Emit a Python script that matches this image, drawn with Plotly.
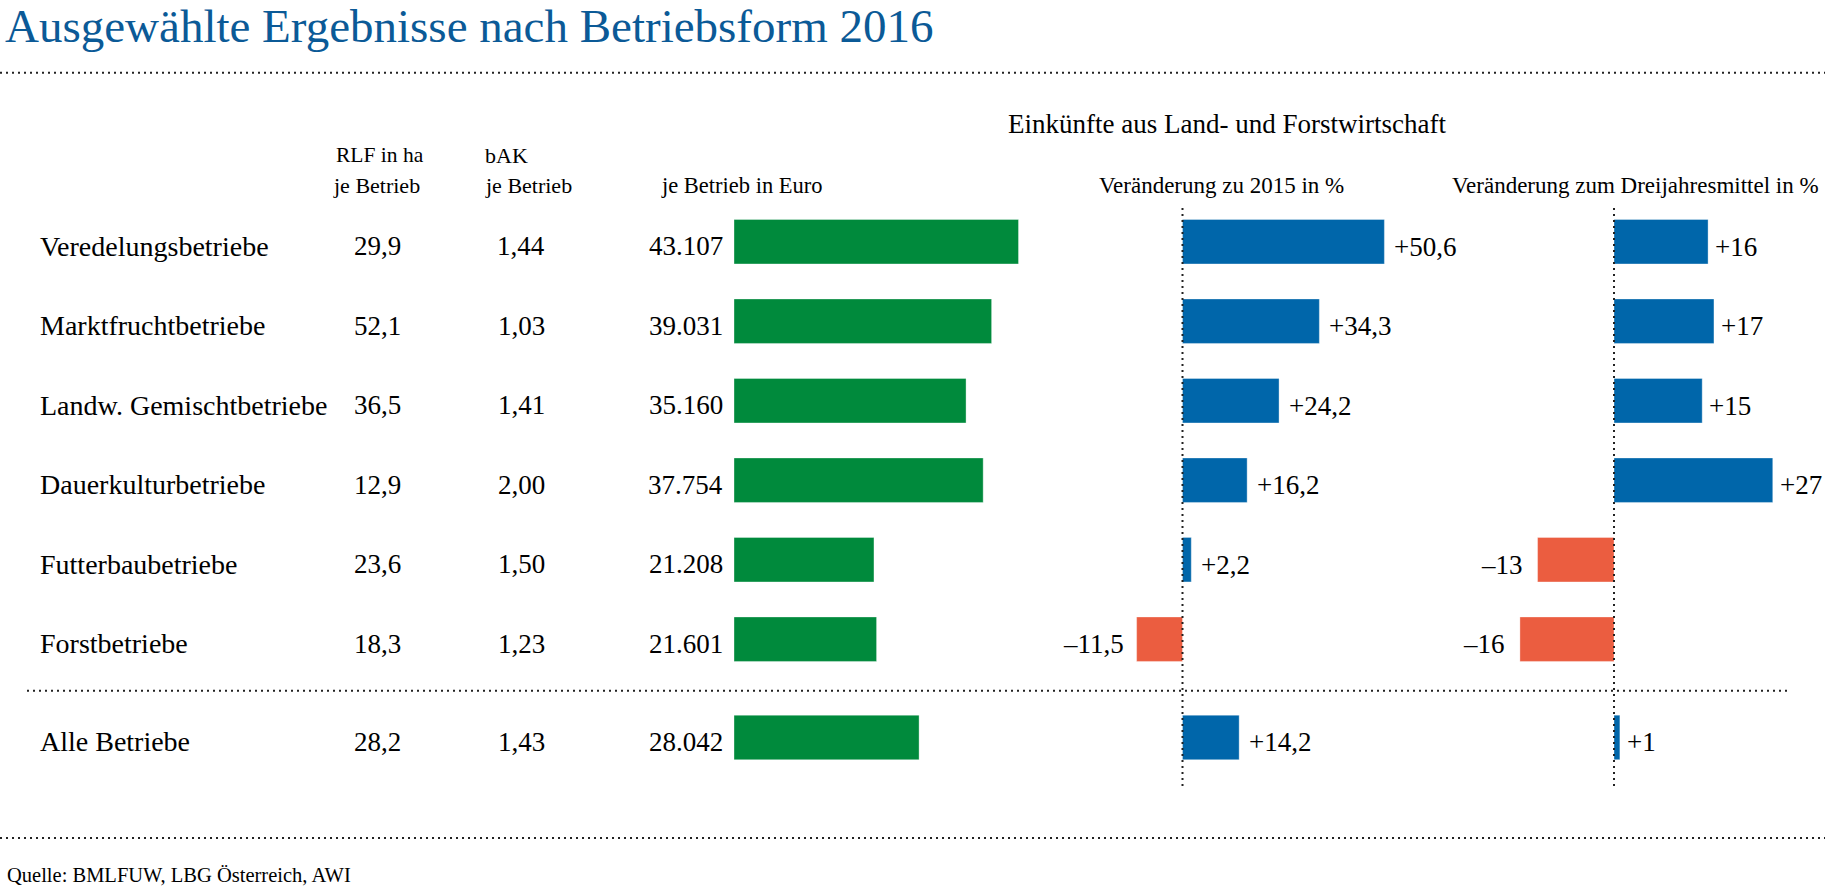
import plotly.graph_objects as go

# ---------------- data ----------------
categories = ["Veredelungsbetriebe", "Marktfruchtbetriebe", "Landw. Gemischtbetriebe",
              "Dauerkulturbetriebe", "Futterbaubetriebe", "Forstbetriebe", "Alle Betriebe"]
rlf_ha = [29.9, 52.1, 36.5, 12.9, 23.6, 18.3, 28.2]
bak = [1.44, 1.03, 1.41, 2.00, 1.50, 1.23, 1.43]
einkuenfte_euro = [43107, 39031, 35160, 37754, 21208, 21601, 28042]
chg_2015 = [50.6, 34.3, 24.2, 16.2, 2.2, -11.5, 14.2]
chg_3y = [16, 17, 15, 27, -13, -16, 1]

title = "Ausgewählte Ergebnisse nach Betriebsform 2016"
source = "Quelle: BMLFUW, LBG Österreich, AWI"

# ---------------- style ----------------
W, H = 1825, 892
FONT = "Liberation Serif"
GREEN = "#008A3C"
BLUE = "#0066AA"
RED = "#EB5D40"
TITLE_BLUE = "#0B5A97"
DOT = "#222222"


def px(x):
    return x / W


def py(y):
    return 1 - y / H


def de1(v):
    return f"{v:.1f}".replace(".", ",")


def de2(v):
    return f"{v:.2f}".replace(".", ",")


def de_int(v):
    return f"{v:,}".replace(",", ".")


def signed(v, dec):
    s = f"{abs(v):.{dec}f}".replace(".", ",")
    return ("+" if v >= 0 else "–") + s


n = len(categories)
row_y = [float(i) for i in range(n - 1)] + [n - 2 + 1.236]

fig = go.Figure()

edge = dict(color="rgba(255,255,255,0.35)", width=1)
fig.add_trace(go.Bar(
    x=einkuenfte_euro, y=row_y, orientation="h", xaxis="x", yaxis="y",
    width=0.56, marker=dict(color=GREEN, line=edge), hoverinfo="skip"))

fig.add_trace(go.Bar(
    x=chg_2015, y=row_y, orientation="h", xaxis="x2", yaxis="y",
    width=0.56, marker=dict(color=[BLUE if v >= 0 else RED for v in chg_2015], line=edge),
    hoverinfo="skip"))

fig.add_trace(go.Bar(
    x=chg_3y, y=row_y, orientation="h", xaxis="x3", yaxis="y",
    width=0.56, marker=dict(color=[BLUE if v >= 0 else RED for v in chg_3y], line=edge),
    hoverinfo="skip"))

ann = []


def text(x, y, t, size, anchor="left", yref="paper", color="black", yshift=0, xref="paper"):
    ann.append(dict(x=x, y=y, xref=xref, yref=yref, text=t, showarrow=False,
                    xanchor=anchor, yanchor="middle", yshift=yshift,
                    font=dict(family=FONT, size=size, color=color)))


# title and source
text(px(3), py(26), title, 47, color=TITLE_BLUE)
text(px(5), py(875), source, 20.5)

# headers
text(px(1006), py(124), "Einkünfte aus Land- und Forstwirtschaft", 27)
text(px(334), py(155), "RLF in ha", 21.5)
text(px(331), py(185), "je Betrieb", 22)
text(px(483), py(155), "bAK", 22)
text(px(483), py(185), "je Betrieb", 22)
text(px(659), py(185), "je Betrieb in Euro", 22.5)
text(px(1097), py(185), "Veränderung zu 2015 in %", 23)
text(px(1450), py(185), "Veränderung zum Dreijahresmittel in %", 23)

# row texts
for i in range(n):
    yv = row_y[i]
    text(px(38), yv, categories[i], 28, yref="y", yshift=-4.5)
    text(px(377), yv, de1(rlf_ha[i]), 27, anchor="center", yref="y", yshift=-4.5)
    text(px(521), yv, de2(bak[i]), 27, anchor="center", yref="y", yshift=-4.5)
    text(px(725), yv, de_int(einkuenfte_euro[i]), 27, anchor="right", yref="y", yshift=-4.5)
    v = chg_2015[i]
    ann.append(dict(x=v, y=yv, xref="x2", yref="y", text=signed(v, 1), showarrow=False,
                    xanchor="left" if v >= 0 else "right", yanchor="middle",
                    xshift=8 if v >= 0 else -11, yshift=-5,
                    font=dict(family=FONT, size=27, color="black")))
    v = chg_3y[i]
    ann.append(dict(x=v, y=yv, xref="x3", yref="y", text=signed(v, 0), showarrow=False,
                    xanchor="left" if v >= 0 else "right", yanchor="middle",
                    xshift=5 if v >= 0 else -13, yshift=-5,
                    font=dict(family=FONT, size=27, color="black")))

dot_line = dict(color=DOT, width=2, dash="2px,4px")
shapes = [
    dict(type="line", xref="paper", yref="paper", x0=0, x1=1, y0=py(72.7), y1=py(72.7), line=dot_line),
    dict(type="line", xref="paper", yref="paper", x0=px(27), x1=px(1787), y0=py(690.7), y1=py(690.7), line=dot_line),
    dict(type="line", xref="paper", yref="paper", x0=0, x1=1, y0=py(838), y1=py(838), line=dot_line),
    dict(type="line", xref="x2", yref="paper", x0=0, x1=0, y0=py(208), y1=py(789), line=dot_line, layer="above"),
    dict(type="line", xref="x3", yref="paper", x0=0, x1=0, y0=py(208), y1=py(789), line=dot_line, layer="above"),
]

# axis scales (pixels per unit chosen to match reference)
g0, g1 = 734, 1100
b0, b1 = 1100, 1445
c0, c1 = 1445, 1825
k_green = 6.6 / 1000
zero2, k2 = 1182.5, 3.99
zero3, k3 = 1614, 5.88

hidden = dict(visible=False, showgrid=False, zeroline=False, fixedrange=True)
row_px0, row_step = 241.7, 79.5

fig.update_layout(
    width=W, height=H, margin=dict(l=0, r=0, t=0, b=0),
    paper_bgcolor="white", plot_bgcolor="white", showlegend=False,
    xaxis=dict(domain=[px(g0), px(g1)], range=[0, (g1 - g0) / k_green], anchor="y", **hidden),
    xaxis2=dict(domain=[px(b0), px(b1)], range=[(b0 - zero2) / k2, (b1 - zero2) / k2], anchor="y", **hidden),
    xaxis3=dict(domain=[px(c0), px(c1)], range=[(c0 - zero3) / k3, (c1 - zero3) / k3], anchor="y", **hidden),
    yaxis=dict(domain=[0, 1], range=[(H - row_px0) / row_step, -row_px0 / row_step], **hidden),
    annotations=ann, shapes=shapes,
)

fig.write_html("out.html", config={"displayModeBar": False},
               post_script="document.body.style.margin='0';document.body.style.overflow='hidden';")
